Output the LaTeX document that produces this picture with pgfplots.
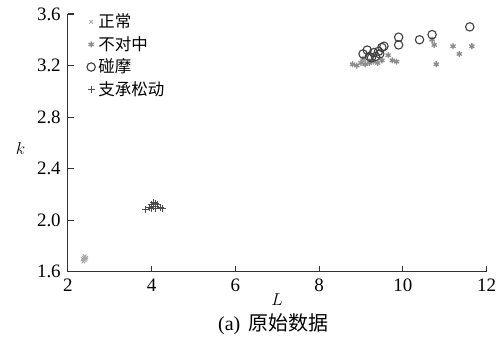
\documentclass[border=0pt]{standalone}
\usepackage{pgfplots}
\pgfplotsset{compat=1.18}
\usepackage{fontspec}
\setmainfont{Liberation Serif}
\newfontfamily\cjk{Noto Sans CJK SC}
\begin{document}
\fontsize{18}{20}\selectfont
\begin{tikzpicture}
\begin{axis}[
  width=419pt, height=258pt, scale only axis=true,
  xmin=2, xmax=12, ymin=1.6, ymax=3.6,
  xtick={2,4,...,12}, ytick={1.6,2.0,2.4,2.8,3.2,3.6},
  yticklabel style={xshift=-1pt,/pgf/number format/.cd,fixed,fixed zerofill,precision=1},
  /pgf/number format/assume math mode=true,
  axis x line*=bottom, axis y line*=left,
  axis line style={line width=1.1pt, black!80, -},
  tick style={line width=1.1pt, black!80},
  tick align=inside, major tick length=6pt,
  tick label style={font=\fontsize{19}{20}\selectfont},
  xticklabel style={yshift=-1pt},
  xlabel={$L$}, ylabel={$k$},
  xlabel style={at={(axis description cs:0.5,0)}, anchor=north, yshift=-16pt, font=\fontsize{19}{20}\selectfont},
  ylabel style={at={(axis description cs:-0.113,0.48)}, anchor=center, rotate=-90, font=\fontsize{19}{20}\selectfont},
  legend style={at={(rel axis cs:0.045,1.01)}, anchor=north west, draw=none, fill=none,
    font=\cjk\fontsize{16.5}{17}\selectfont, row sep=2pt, inner sep=0pt, nodes={inner xsep=3pt}},
  legend cell align=left,
  clip=false,
]
\addplot[only marks, mark=x, mark size=2.5pt, draw=black!35, line width=0.9pt] coordinates {
 (2.35,1.70) (2.38,1.71) (2.40,1.69) (2.42,1.70) (2.37,1.68) (2.40,1.72) (2.44,1.71)
};
\addlegendentry{正常}
\addplot[only marks, mark=asterisk, mark size=3pt, draw=black!45, line width=1.3pt] coordinates {
 (8.80,3.21) (8.90,3.20) (9.00,3.22) (9.10,3.21) (9.20,3.22) (9.30,3.23) (9.40,3.22)
 (9.50,3.24) (9.65,3.28) (9.75,3.24) (9.85,3.23) (10.70,3.40) (10.75,3.36) (10.80,3.21)
 (11.20,3.35) (11.35,3.29) (11.65,3.35) (9.05,3.25) (9.25,3.24)
};
\addlegendentry{不对中}
\addplot[only marks, mark=o, mark size=4.2pt, draw=black!75, line width=1.1pt] coordinates {
 (9.05,3.29) (9.15,3.32) (9.20,3.27) (9.30,3.30) (9.35,3.27) (9.42,3.31) (9.50,3.34)
 (9.55,3.35) (9.25,3.26) (9.45,3.29) (9.90,3.42) (9.90,3.36) (10.40,3.40) (10.70,3.44)
 (11.60,3.50)
};
\addlegendentry{碰摩}
\addplot[only marks, mark=+, mark size=3.5pt, draw=black!70, line width=1pt] coordinates {
 (3.85,2.08) (3.95,2.10) (4.00,2.12) (4.05,2.11) (4.10,2.13) (4.15,2.12) (4.10,2.09)
 (4.20,2.10) (4.25,2.09) (4.00,2.09) (4.10,2.11) (4.05,2.14)
};
\addlegendentry{支承松动}
\end{axis}
\node[anchor=north, font=\fontsize{20}{22}\selectfont] at ([xshift=-4pt,yshift=-36pt]current axis.south) {(a)\hspace{8pt}{\cjk 原始数据}};
\path ([xshift=-68pt,yshift=-66pt]current axis.south west) rectangle ([xshift=15pt,yshift=14pt]current axis.north east);
\end{tikzpicture}
\end{document}
